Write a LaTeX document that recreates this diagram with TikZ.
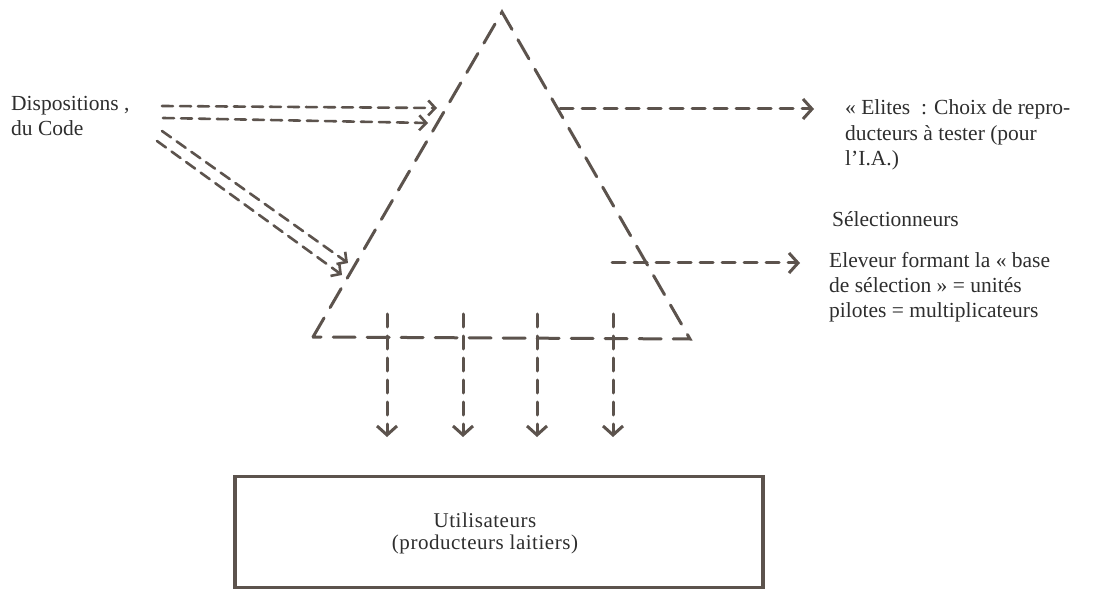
\documentclass[tikz,border=0pt]{standalone}
\usepackage{fontspec}
\setmainfont{Liberation Serif}
\usetikzlibrary{arrows.meta}
\definecolor{ink}{HTML}{5C534D}
\definecolor{txt}{HTML}{2E2E2E}
\tikzset{
  side/.style={draw=ink, line width=3pt, dash pattern=on 22pt off 12pt, line cap=round},
  flow/.style={draw=ink, line width=3pt, dash pattern=on 13pt off 9pt, line cap=round,
    -{Straight Barb[length=9pt,width=20pt,line width=3pt]}},
  thinflow/.style={draw=ink, line width=2.6pt, dash pattern=on 11pt off 7pt, line cap=round,
    -{Straight Barb[length=7pt,width=15pt,line width=2.6pt]}},
  label/.style={text=txt, font=\fontsize{21.5}{25.5}\selectfont, inner sep=0pt, align=left},
  userbox/.style={draw=ink, line width=3.5pt, fill=white},
  usertext/.style={text=txt, font=\fontsize{21}{22}\selectfont\addfontfeatures{LetterSpace=2.5},
    inner sep=0pt, align=center},
}
\begin{document}
\begin{tikzpicture}[x=1pt, y=-1pt]
\useasboundingbox[fill=white] (0,0) rectangle (1110,593);

% triangle corners
\coordinate (apex) at (502,12);
\coordinate (bl) at (313,337);
\coordinate (br) at (690,339);
\draw[side] (bl) -- (apex) -- (br) -- cycle;

% texts (anchored on the baseline of their last line)
\node[label, anchor=base west] (dispo) at (11,136) {Dispositions ,\\du Code};
\node[label, anchor=base west] (elites) at (845,166)
  {« Elites~ : Choix de repro-\\ducteurs à tester (pour\\l’I.A.)};
\node[label, anchor=base west] (selec) at (832,227) {Sélectionneurs};
\node[label, anchor=base west] (eleveur) at (829,318)
  {Eleveur formant la « base\\de sélection » = unités\\pilotes = multiplicateurs};

% receiving box
\node[userbox, minimum width=528pt, minimum height=111pt] (users) at (499,532) {};
\node[usertext, anchor=base] (userstext) at (485,549)
  {Utilisateurs\\(producteurs laitiers)};

% double arrows from the code provisions into the triangle
\coordinate (h1s) at (162,106);
\coordinate (h1e) at (437,108);
\coordinate (h2s) at (163,118);
\coordinate (h2e) at (428,123);
\coordinate (d1s) at (162,131);
\coordinate (d1e) at (348,263);
\coordinate (d2s) at (157,141);
\coordinate (d2e) at (342,275);
\draw[thinflow] (h1s) -- (h1e);
\draw[thinflow] (h2s) -- (h2e);
\draw[thinflow] (d1s) -- (d1e);
\draw[thinflow] (d2s) -- (d2e);

% outputs to the right
\coordinate (o1s) at (560,109);
\coordinate (o1e) at (814,109);
\coordinate (o2s) at (612,263);
\coordinate (o2e) at (800,263);
\draw[flow] (o1s) -- (o1e);
\draw[flow] (o2s) -- (o2e);

% outputs down to the users
\foreach \x [count=\i] in {387,463,537,613}{
  \coordinate (v\i s) at (\x,314);
  \coordinate (v\i e) at (\x,437);
  \draw[flow] (v\i s) -- (v\i e);
}
\end{tikzpicture}
\end{document}
